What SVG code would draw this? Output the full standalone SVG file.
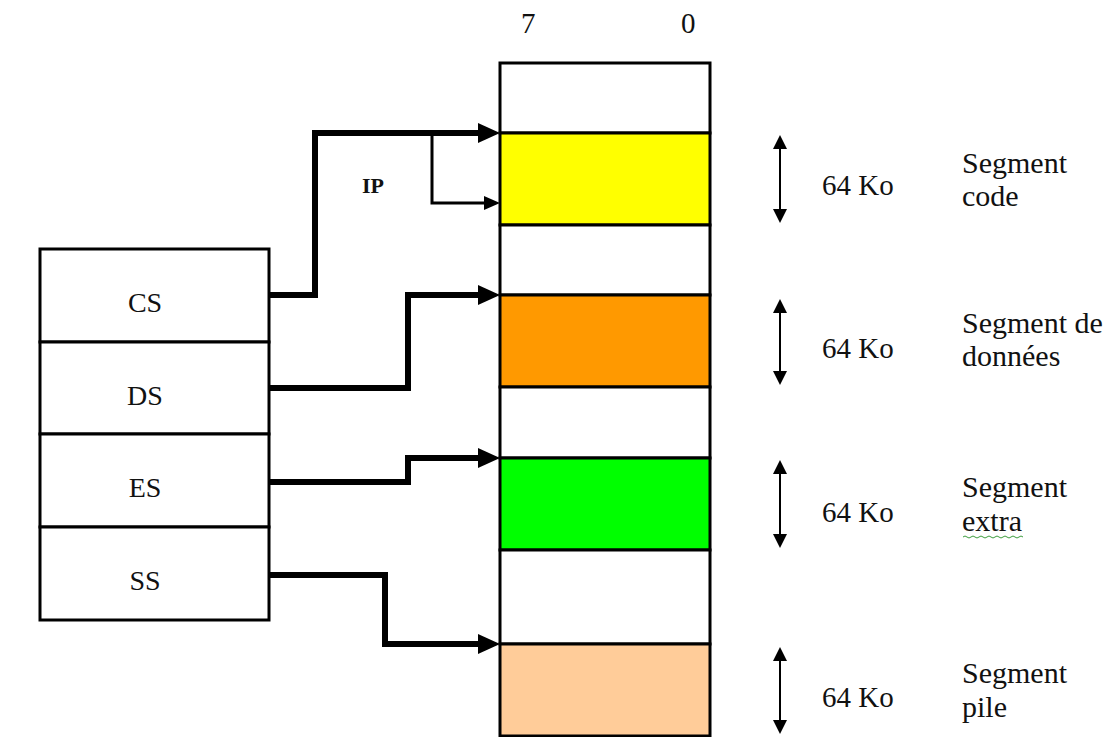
<svg xmlns="http://www.w3.org/2000/svg" width="1114" height="737" viewBox="0 0 1114 737" font-family="'Liberation Serif', 'Times New Roman', serif">
<defs>
<style>
text{font-family:'Liberation Serif','Times New Roman',serif;fill:#111;}
.lbl{font-size:29px;}
.seglbl{font-size:30px;}
.reg{font-size:28px;text-anchor:middle;}
.box{fill:#fff;stroke:#000;stroke-width:3;}
.conn{fill:none;stroke:#000;stroke-width:6;stroke-linejoin:miter;}
.thin{fill:none;stroke:#000;stroke-width:3;}
.dim{fill:none;stroke:#000;stroke-width:2;}
</style>
<marker id="big" viewBox="0 0 22 20" refX="2" refY="10" markerWidth="22" markerHeight="20" markerUnits="userSpaceOnUse" orient="auto"><path d="M0,0 L22,10 L0,20 z" fill="#000"/></marker>
<marker id="small" viewBox="0 0 16 14" refX="2" refY="7" markerWidth="16" markerHeight="14" markerUnits="userSpaceOnUse" orient="auto"><path d="M0,0 L16,7 L0,14 z" fill="#000"/></marker>
<marker id="dimh" viewBox="0 0 14 14" refX="2" refY="7" markerWidth="14" markerHeight="14" markerUnits="userSpaceOnUse" orient="auto-start-reverse"><path d="M0,0 L14,7 L0,14 z" fill="#000"/></marker>
</defs>
<rect width="1114" height="737" fill="#fff"/>

<g id="bit-labels">
<text class="lbl" x="521" y="33">7</text>
<text class="lbl" x="681" y="33">0</text>
</g>

<g id="memory">
<rect x="500" y="63" width="210" height="70" class="box"/>
<rect x="500" y="133" width="210" height="92" class="box" style="fill:#ffff00"/>
<rect x="500" y="225" width="210" height="70" class="box"/>
<rect x="500" y="295" width="210" height="92" class="box" style="fill:#ff9900"/>
<rect x="500" y="387" width="210" height="71" class="box"/>
<rect x="500" y="458" width="210" height="92" class="box" style="fill:#00ff00"/>
<rect x="500" y="550" width="210" height="94" class="box"/>
<rect x="500" y="644" width="210" height="92" class="box" style="fill:#ffcc99"/>
</g>

<g id="reg-CS"><rect x="40" y="249" width="229" height="93" class="box"/><text class="reg" x="145" y="312">CS</text></g>
<g id="reg-DS"><rect x="40" y="342" width="229" height="92" class="box"/><text class="reg" x="145" y="405">DS</text></g>
<g id="reg-ES"><rect x="40" y="434" width="229" height="93" class="box"/><text class="reg" x="145" y="497">ES</text></g>
<g id="reg-SS"><rect x="40" y="527" width="229" height="93" class="box"/><text class="reg" x="145" y="590">SS</text></g>

<g id="connectors">
<path class="conn" d="M269,295 H315 V133 H480" marker-end="url(#big)"/>
<path class="thin" d="M432,133 V203 H486" marker-end="url(#small)"/>
<path class="conn" d="M269,388 H408 V295 H480" marker-end="url(#big)"/>
<path class="conn" d="M269,482 H408 V458 H480" marker-end="url(#big)"/>
<path class="conn" d="M269,575 H385 V644 H480" marker-end="url(#big)"/>
</g>
<g id="ip-label"><text x="362" y="193" style="font-size:22px;font-weight:bold">IP</text></g>

<g id="dim-code">
<path class="dim" d="M780,147 V211" marker-start="url(#dimh)" marker-end="url(#dimh)"/>
<text class="lbl" x="822" y="195">64 Ko</text>
<text class="seglbl" x="962" y="173">Segment</text>
<text class="seglbl" x="962" y="206">code</text>
</g>
<g id="dim-data">
<path class="dim" d="M780,311 V373" marker-start="url(#dimh)" marker-end="url(#dimh)"/>
<text class="lbl" x="822" y="358">64 Ko</text>
<text class="seglbl" x="962" y="333">Segment de</text>
<text class="seglbl" x="962" y="366">données</text>
</g>
<g id="dim-extra">
<path class="dim" d="M780,472 V536" marker-start="url(#dimh)" marker-end="url(#dimh)"/>
<text class="lbl" x="822" y="522">64 Ko</text>
<text class="seglbl" x="962" y="497">Segment</text>
<text class="seglbl" x="962" y="531">extra</text>
<path d="M963,537 q2,-2 4,0 t4,0 t4,0 t4,0 t4,0 t4,0 t4,0 t4,0 t4,0 t4,0 t4,0 t4,0 t4,0 t4,0 t4,0" fill="none" stroke="#3c9c3c" stroke-width="1"/>
</g>
<g id="dim-stack">
<path class="dim" d="M780,659 V722" marker-start="url(#dimh)" marker-end="url(#dimh)"/>
<text class="lbl" x="822" y="707">64 Ko</text>
<text class="seglbl" x="962" y="683">Segment</text>
<text class="seglbl" x="962" y="717">pile</text>
</g>
</svg>
